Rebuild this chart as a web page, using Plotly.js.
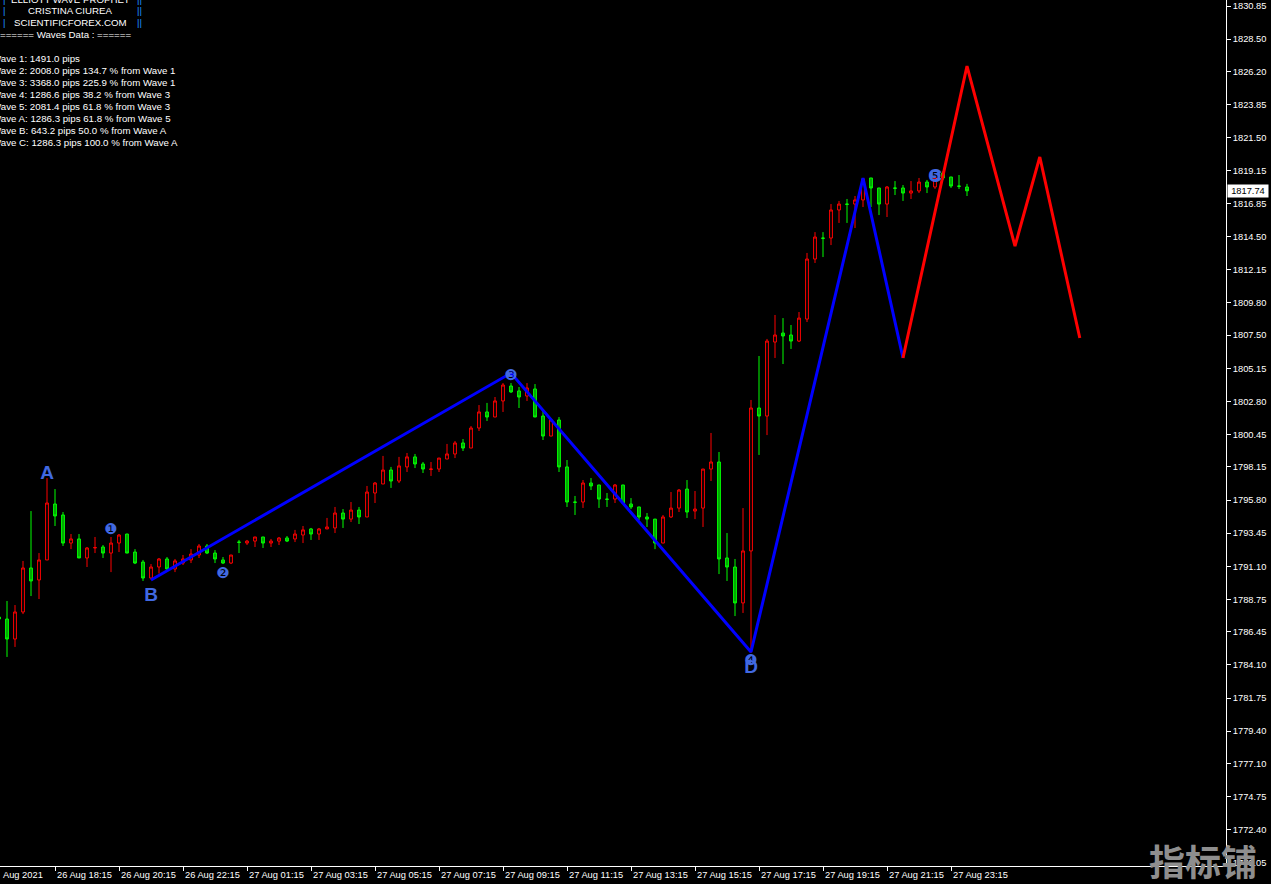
<!DOCTYPE html>
<html>
<head>
<meta charset="utf-8">
<script src="https://cdn.plot.ly/plotly-3.0.1.min.js"></script>
<style>html,body{margin:0;padding:0;background:#000;}#chart{width:1271px;height:884px;}</style>
</head>
<body>
<div id="chart"></div>
<script>
// ---- OHLC data (XAUUSD M15), one entry per bar, bar index = position in array ----
const open = [1787.50,1787.36,1785.94,1787.86,1790.98,1790.13,1791.55,1795.52,1794.74,1792.75,1793.04,1791.69,1792.40,1792.47,1792.04,1792.75,1793.39,1792.11,1791.40,1790.27,1791.05,1791.62,1790.91,1791.33,1791.55,1791.90,1792.54,1792.04,1791.55,1791.33,1792.82,1792.75,1792.89,1793.18,1792.75,1792.89,1793.11,1793.04,1793.32,1793.75,1793.39,1793.75,1793.82,1794.88,1794.45,1795.09,1794.60,1796.30,1796.94,1797.93,1797.15,1798.15,1798.86,1798.36,1797.97,1798.00,1798.71,1799.07,1799.85,1799.49,1800.91,1802.05,1801.69,1802.83,1803.89,1803.54,1803.18,1803.68,1801.76,1800.34,1801.48,1798.15,1795.66,1795.66,1797.01,1796.87,1795.87,1795.87,1796.87,1795.52,1795.31,1794.60,1794.45,1792.75,1794.60,1795.23,1796.58,1795.02,1795.23,1798.00,1798.50,1791.69,1791.05,1788.50,1792.19,1802.33,1801.76,1807.01,1807.65,1807.51,1807.08,1808.64,1812.90,1814.39,1814.39,1816.38,1816.80,1816.80,1817.09,1818.65,1817.94,1816.80,1817.94,1817.94,1817.58,1817.73,1818.36,1818.01,1819.00,1818.72,1818.08,1818.01];
const high = [1787.65,1788.64,1788.35,1791.48,1795.02,1792.04,1797.36,1796.58,1794.95,1793.39,1793.39,1792.47,1793.18,1792.61,1793.18,1793.39,1793.40,1792.32,1791.55,1791.26,1791.69,1791.76,1791.62,1791.90,1792.32,1792.68,1792.68,1792.25,1791.76,1791.90,1792.97,1792.97,1793.18,1793.18,1793.04,1793.18,1793.25,1793.68,1793.96,1793.82,1793.82,1794.53,1795.31,1795.16,1795.66,1795.31,1796.80,1797.08,1798.93,1798.15,1798.86,1799.14,1799.07,1798.50,1798.50,1798.78,1799.78,1799.99,1800.13,1801.05,1802.54,1802.69,1803.11,1804.10,1804.10,1803.82,1804.10,1804.03,1802.12,1801.55,1801.69,1798.64,1796.09,1797.22,1797.36,1796.87,1796.30,1796.94,1796.87,1795.94,1795.31,1794.88,1794.45,1794.74,1796.37,1796.58,1797.22,1796.44,1798.00,1800.56,1799.21,1793.46,1791.62,1795.23,1802.90,1806.02,1807.23,1808.93,1808.71,1808.22,1809.14,1813.33,1814.81,1814.81,1816.80,1817.02,1817.16,1817.37,1818.65,1818.65,1817.94,1818.08,1818.43,1818.15,1818.43,1818.65,1818.51,1818.79,1819.14,1818.72,1818.86,1818.23];
const low = [1787.15,1784.67,1785.38,1787.71,1788.99,1788.78,1791.55,1793.96,1792.54,1792.32,1791.69,1791.05,1792.04,1791.69,1790.69,1792.11,1792.03,1791.26,1790.06,1790.15,1790.58,1790.84,1790.69,1791.19,1791.33,1791.69,1791.97,1791.33,1791.26,1791.26,1792.04,1792.61,1792.47,1792.40,1792.47,1792.61,1792.82,1792.82,1792.75,1792.97,1792.97,1793.75,1793.46,1793.82,1794.24,1794.10,1794.60,1795.59,1796.94,1796.66,1797.01,1797.79,1798.07,1797.72,1797.51,1797.79,1798.71,1798.78,1799.28,1799.49,1800.70,1801.41,1801.69,1802.05,1803.40,1802.33,1802.83,1801.69,1800.06,1800.34,1797.79,1795.31,1794.74,1795.24,1796.51,1795.24,1795.31,1795.59,1795.59,1795.16,1794.38,1793.89,1792.32,1792.75,1794.53,1794.95,1794.53,1794.45,1793.89,1797.15,1790.55,1790.06,1787.57,1787.79,1784.95,1799.00,1800.41,1805.88,1805.45,1806.52,1807.01,1808.43,1812.62,1813.04,1813.89,1815.46,1815.46,1815.10,1816.59,1816.59,1816.02,1815.88,1817.44,1817.02,1817.16,1817.58,1817.58,1817.87,1818.51,1817.94,1817.87,1817.37];
const close = [1787.36,1785.94,1787.86,1790.98,1790.06,1791.55,1795.59,1794.67,1792.75,1793.04,1791.69,1792.40,1792.43,1792.04,1792.75,1793.32,1792.04,1791.33,1790.27,1791.05,1791.62,1790.91,1791.48,1791.62,1791.97,1792.54,1792.04,1791.62,1791.33,1791.90,1792.80,1792.89,1793.18,1792.75,1792.89,1793.11,1792.89,1793.39,1793.68,1793.39,1793.75,1793.89,1794.88,1794.45,1795.09,1794.60,1796.37,1797.01,1797.93,1797.15,1798.22,1798.86,1798.36,1798.00,1798.00,1798.78,1799.07,1799.85,1799.49,1800.91,1802.05,1801.69,1802.83,1803.96,1803.47,1803.11,1803.75,1801.69,1800.34,1801.48,1798.15,1795.66,1795.64,1797.01,1796.80,1795.87,1795.85,1796.87,1795.59,1795.31,1794.60,1794.45,1792.75,1794.60,1795.23,1796.51,1794.95,1795.16,1798.00,1798.50,1791.62,1791.05,1788.50,1792.19,1802.33,1801.76,1807.08,1807.51,1807.44,1807.08,1808.71,1812.90,1814.46,1814.37,1816.38,1816.80,1816.78,1817.09,1818.58,1817.94,1816.80,1818.01,1817.92,1817.58,1817.73,1818.36,1818.01,1818.65,1818.65,1818.08,1818.06,1817.74];

// ---- time scale labels (bar index where each label sits) ----
const timeLabels = ["26 Aug 18:15","26 Aug 20:15","26 Aug 22:15","27 Aug 01:15","27 Aug 03:15","27 Aug 05:15","27 Aug 07:15","27 Aug 09:15","27 Aug 11:15","27 Aug 13:15","27 Aug 15:15","27 Aug 17:15","27 Aug 19:15","27 Aug 21:15","27 Aug 23:15"];
const timeLabelBars = [7,15,23,31,39,47,55,63,71,79,87,95,103,111,119];
const firstDateLabel = "Aug 2021";

// ---- price scale labels ----
const priceTicks = [1830.85,1828.50,1826.20,1823.85,1821.50,1819.15,1816.85,1814.50,1812.15,1809.80,1807.50,1805.15,1802.80,1800.45,1798.15,1795.80,1793.45,1791.10,1788.75,1786.45,1784.10,1781.75,1779.40,1777.10,1774.75,1772.40,1770.05];
const lastPrice = 1817.74;

// ---- Elliott wave path (blue) and projection (red) ----
const waveBars = [19, 64, 94, 108, 113];
const wavePrices = [1790.13, 1804.81, 1785.02, 1818.65, 1805.88];
const projBars = [113, 121, 127, 130.1, 135.1];
const projPrices = [1805.88, 1826.59, 1813.82, 1820.14, 1807.30];

// ---- wave labels ----
const letterTexts = ["A", "B", "D", "C"];
const letterBars = [6, 19, 94, 117];
const letterPrices = [1797.65, 1788.99, 1783.88, 1818.72];
const countTexts = ["❶", "❷", "❸", "❹", "❺"];
const countBars = [14, 28, 64, 94, 117];
const countPrices = [1793.67, 1790.55, 1804.60, 1784.38, 1818.72];

// ---- info panel ----
const headerLines = ["ELLIOTT WAVE PROPHET", "CRISTINA CIUREA", "SCIENTIFICFOREX.COM"];
const waveNames = ["Wave 1","Wave 2","Wave 3","Wave 4","Wave 5","Wave A","Wave B","Wave C"];
const wavePips = [1491.0, 2008.0, 3368.0, 1286.6, 2081.4, 1286.3, 643.2, 1286.3];
const wavePct = [null, 134.7, 225.9, 38.2, 61.8, 61.8, 50.0, 100.0];
const waveRef = [null, "Wave 1", "Wave 1", "Wave 3", "Wave 3", "Wave 5", "Wave A", "Wave A"];

const bars = open.map((_, i) => i);

const W = 1271, H = 884, ML = 0, MR = 45, MT = 0, MB = 18;
const PW = W - ML - MR, PH = H - MT - MB;
const px = v => v / PW;          // pixel -> paper x
const py = v => 1 - v / PH;      // pixel -> paper y

const TXT = "Liberation Sans, Arial, sans-serif";
const BLUE_LBL = "#4169e1";

const traces = [
  {
    type: "candlestick", x: bars, open: open, high: high, low: low, close: close,
    increasing: { line: { color: "#ff0000", width: 1 }, fillcolor: "rgba(0,0,0,0)" },
    decreasing: { line: { color: "#00ff00", width: 1 }, fillcolor: "#00a000" },
    whiskerwidth: 0, hoverinfo: "skip", showlegend: false
  },
  {
    type: "scatter", mode: "lines", x: waveBars, y: wavePrices,
    line: { color: "#0000ff", width: 3 }, hoverinfo: "skip", showlegend: false
  },
  {
    type: "scatter", mode: "lines", x: projBars, y: projPrices,
    line: { color: "#ff0000", width: 3 }, hoverinfo: "skip", showlegend: false
  },
  {
    type: "scatter", mode: "text", x: countBars, y: countPrices, text: countTexts,
    textfont: { family: "DejaVu Sans", size: 15, color: BLUE_LBL },
    textposition: "middle center", hoverinfo: "skip", showlegend: false, cliponaxis: false
  },
  {
    type: "scatter", mode: "text", x: letterBars, y: letterPrices, text: letterTexts,
    textfont: { family: "Liberation Sans, Arial", size: 19, color: BLUE_LBL, weight: "bold" },
    textposition: "middle center", hoverinfo: "skip", showlegend: false, cliponaxis: false
  }
];

const annotations = [];
// time labels, left aligned just right of their tick
timeLabels.forEach((t, k) => {
  annotations.push({
    text: t, x: timeLabelBars[k], xref: "x", xanchor: "left", xshift: 1,
    y: 0, yref: "paper", yanchor: "top", yshift: -3, showarrow: false,
    font: { family: TXT, size: 9.3, color: "#ffffff" }, borderpad: 0
  });
});
annotations.push({
  text: firstDateLabel, x: px(2), xref: "paper", xanchor: "left",
  y: 0, yref: "paper", yanchor: "top", yshift: -3, showarrow: false,
  font: { family: TXT, size: 9.3, color: "#ffffff" }, borderpad: 0
});
// last price box
annotations.push({
  text: lastPrice.toFixed(2), x: 1, xref: "paper", xanchor: "left", xshift: 1,
  y: lastPrice, yref: "y", yanchor: "middle", showarrow: false,
  bgcolor: "#ffffff", font: { family: TXT, size: 9.3, color: "#000000" },
  width: 40, height: 12, borderpad: 0, align: "center"
});
// header block
const headerY = [-1, 10.7, 22.7];
headerLines.forEach((t, k) => {
  annotations.push({
    text: t, x: px(70.5), xref: "paper", xanchor: "center",
    y: py(headerY[k]), yref: "paper", yanchor: "middle", showarrow: false,
    font: { family: TXT, size: 9.7, color: "#ffffff" }, borderpad: 0
  });
  annotations.push({
    text: "|", x: px(1.5), xref: "paper", xanchor: "left",
    y: py(headerY[k]), yref: "paper", yanchor: "middle", showarrow: false,
    font: { family: TXT, size: 9.7, color: "#1e90ff" }, borderpad: 0
  });
  annotations.push({
    text: "||", x: px(135.5), xref: "paper", xanchor: "left",
    y: py(headerY[k]), yref: "paper", yanchor: "middle", showarrow: false,
    font: { family: TXT, size: 9.7, color: "#1e90ff" }, borderpad: 0
  });
});
annotations.push({
  text: "====== Waves Data : ======", x: px(-1), xref: "paper", xanchor: "left",
  y: py(34.8), yref: "paper", yanchor: "middle", showarrow: false,
  font: { family: TXT, size: 9.7, color: "#ffffff" }, borderpad: 0
});
waveNames.forEach((n, k) => {
  let t = n + ": " + wavePips[k].toFixed(1) + " pips";
  if (wavePct[k] !== null) t += " " + wavePct[k].toFixed(1) + " % from " + waveRef[k];
  annotations.push({
    text: t, x: px(-9), xref: "paper", xanchor: "left",
    y: py(58.8 + 11.95 * k), yref: "paper", yanchor: "middle", showarrow: false,
    font: { family: TXT, size: 9.7, color: "#ffffff" }, borderpad: 0
  });
});
// watermark
annotations.push({
  text: "指标铺", x: px(1203), xref: "paper", xanchor: "center",
  y: py(860), yref: "paper", yanchor: "middle", showarrow: false,
  font: { family: "Noto Sans CJK SC", size: 36, color: "#8e8e8e", weight: "bold" }, borderpad: 0
});

const layout = {
  width: W, height: H,
  margin: { l: ML, r: MR, t: MT, b: MB, pad: 0 },
  paper_bgcolor: "#000000", plot_bgcolor: "#000000",
  showlegend: false, hovermode: false, boxgap: 0.5,
  xaxis: {
    type: "linear", range: [0.125, 0.125 + PW / 8], rangeslider: { visible: false },
    showgrid: false, zeroline: false, showline: true, linecolor: "#ffffff", linewidth: 1,
    ticks: "outside", ticklen: 4, tickcolor: "#ffffff", tickwidth: 1,
    tickmode: "array", tickvals: timeLabelBars, showticklabels: false, fixedrange: true
  },
  yaxis: {
    side: "right", range: [1769.838, 1831.276],
    showgrid: false, zeroline: false, showline: true, linecolor: "#ffffff", linewidth: 1,
    ticks: "outside", ticklen: 4, tickcolor: "#ffffff", tickwidth: 1,
    tickmode: "array", tickvals: priceTicks, ticktext: priceTicks.map(v => v.toFixed(2)),
    tickfont: { family: TXT, size: 9.3, color: "#ffffff" }, fixedrange: true
  },
  annotations: annotations
};

Plotly.newPlot("chart", traces, layout, { staticPlot: true, displayModeBar: false });
</script>
</body>
</html>
